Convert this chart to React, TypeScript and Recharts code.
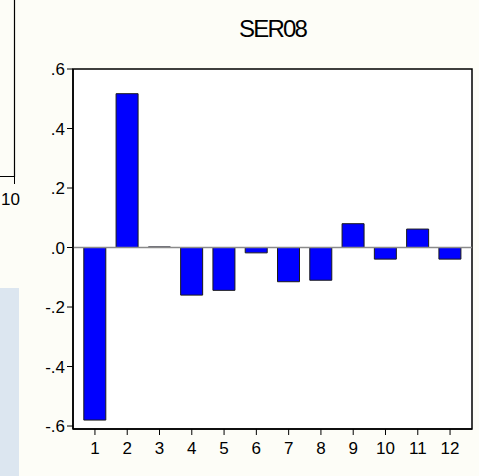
import { BarChart, Bar, XAxis, YAxis, ReferenceLine, ReferenceArea, CartesianGrid } from 'recharts'

const lags = [1, 2, 3, 4, 5, 6, 7, 8, 9, 10, 11, 12]
const ser08 = [-0.58, 0.517, 0.002, -0.16, -0.144, -0.018, -0.115, -0.11, 0.08, -0.039, 0.062, -0.039]
const yTicks = [-0.6, -0.4, -0.2, 0, 0.2, 0.4, 0.6]

const data = lags.map((lag, i) => ({ lag, value: ser08[i] }))

const xDomain: [number, number] = [0.32, 12.68]
const yDomain: [number, number] = [-0.61, 0.6]

// EViews style labels: ".4", "-.2", ".0"
const fmtY = (v: number) => (v < 0 ? '-' : '') + '.' + Math.round(Math.abs(v) * 10)

const font = '"Liberation Sans", Arial, sans-serif'
const tickStyle = { fontSize: 17, fill: '#000', fontFamily: font }
const line = { stroke: '#000', strokeWidth: 1.5 }

export default function App() {
  return (
    <div style={{ position: 'absolute', left: 0, top: 0, width: 479, height: 476, background: '#fdfdf7', overflow: 'hidden', fontFamily: font }}>
      {/* bits of the neighbouring panels */}
      <svg width={40} height={476} style={{ position: 'absolute', left: 0, top: 0 }}>
        <polyline points="14.5,0 14.5,176.5 0,176.5" fill="none" stroke="#000" strokeWidth={1.2} />
        <line x1={14.5} y1={176} x2={14.5} y2={184} stroke="#000" />
        <text x={20} y={205} textAnchor="end" fontSize={17} fontFamily={font} fill="#000">10</text>
        <rect x={0} y={288} width={19} height={188} fill="#dce6f0" />
      </svg>

      <div style={{ position: 'absolute', left: 0, top: 15, width: 545, textAlign: 'center', fontSize: 24, letterSpacing: -1.8, color: '#000' }}>
        SER08
      </div>

      <div style={{ position: 'absolute', left: 0, top: 0 }}>
        <BarChart width={479} height={476} data={data} margin={{ top: 69, right: 7, bottom: 17, left: 0 }}>
          <CartesianGrid horizontal={false} vertical={false} fill="#ffffff" />
          <XAxis
            dataKey="lag"
            type="number"
            domain={xDomain}
            ticks={lags}
            allowDataOverflow
            height={30}
            tickSize={6}
            tickMargin={7}
            tick={tickStyle}
            axisLine={line}
            tickLine={{ stroke: '#000' }}
          />
          <YAxis
            domain={yDomain}
            ticks={yTicks}
            allowDataOverflow
            width={73}
            tickSize={6}
            tickFormatter={fmtY}
            tick={tickStyle}
            axisLine={line}
            tickLine={{ stroke: '#000' }}
          />
          <ReferenceLine y={0} stroke="#8a8a8a" strokeWidth={1.5} />
          <Bar dataKey="value" barSize={22} fill="#0000ff" stroke="#1a1a1a" strokeWidth={1} isAnimationActive={false} />
          {/* plot frame */}
          <ReferenceArea x1={xDomain[0]} x2={xDomain[1]} y1={yDomain[0]} y2={yDomain[1]} fill="none" fillOpacity={0} stroke="#000" strokeOpacity={1} strokeWidth={1.5} />
        </BarChart>
      </div>
    </div>
  )
}
